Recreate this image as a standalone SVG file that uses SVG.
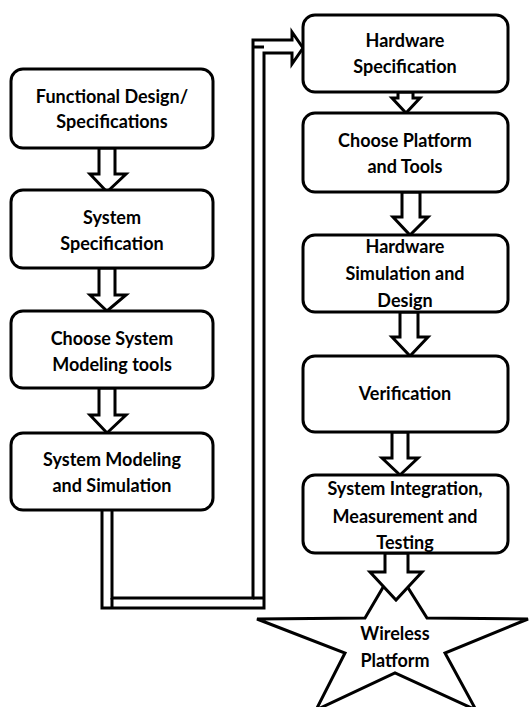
<svg xmlns="http://www.w3.org/2000/svg" width="529" height="707" viewBox="0 0 529 707">
<style>
.box{fill:#fff;stroke:#000;stroke-width:3}
.arr{fill:#fff;stroke:#000;stroke-width:3;stroke-linejoin:miter}
.ln{fill:none;stroke:#000;stroke-width:3;stroke-linejoin:miter}
text{font-family:Lato,"Liberation Sans",sans-serif;font-weight:bold;font-size:18px;fill:#000;text-anchor:middle}
</style>
<rect width="529" height="707" fill="#fff"/>
<g id="connectors">
<path class="ln" d="M102,510 V608 H264 V53 H292 V64 L303,48 L292,32 V40 H253 V598 H112 V510"/>
<path class="ln" d="M253,47 H264 M253,598 H264 M112,598 V608"/>
</g>
<g id="star">
<polygon class="arr" points="395,567 427,618 528,619 445,653 476,710 395,673 316,710 345,653 257,619 365,618"/>
<text x="395" y="640">Wireless</text>
<text x="395" y="667">Platform</text>
</g>
<g id="arrows">
<polygon class="arr" points="99,148 115,148 115,174 126,174 107,192 90,174 99,174"/>
<polygon class="arr" points="99,268 115,268 115,295 126,295 107,311 90,295 99,295"/>
<polygon class="arr" points="99,388 115,388 115,415 126,415 107,433 90,415 99,415"/>
<polygon class="arr" points="398,92 413,92 413,98 420,98 406,113 392,98 398,98"/>
<polygon class="arr" points="402,192 420,192 420,217 428,217 410,235 393,217 402,217"/>
<polygon class="arr" points="400,312 418,312 418,337 428,337 410,356 392,337 400,337"/>
<polygon class="arr" points="392,432 408,432 408,458 418,458 400,475 382,458 392,458"/>
<polygon class="arr" points="385,553 408,553 408,572 422,572 396,600 370,572 385,572"/>
</g>
<g id="n1"><rect class="box" x="11" y="69" width="202" height="79" rx="12"/>
<text x="112" y="103">Functional Design/</text><text x="112" y="128">Specifications</text></g>
<g id="n2"><rect class="box" x="11" y="190" width="202" height="78" rx="12"/>
<text x="112" y="224">System</text><text x="112" y="250">Specification</text></g>
<g id="n3"><rect class="box" x="11" y="311" width="202" height="77" rx="12"/>
<text x="112" y="345">Choose System</text><text x="112" y="371">Modeling tools</text></g>
<g id="n4"><rect class="box" x="11" y="433" width="202" height="77" rx="12"/>
<text x="112" y="466">System Modeling</text><text x="112" y="492">and Simulation</text></g>
<g id="n5"><rect class="box" x="303" y="15" width="205" height="77" rx="12"/>
<text x="405" y="47">Hardware</text><text x="405" y="73">Specification</text></g>
<g id="n6"><rect class="box" x="303" y="113" width="205" height="79" rx="12"/>
<text x="405" y="147">Choose Platform</text><text x="405" y="173">and Tools</text></g>
<g id="n7"><rect class="box" x="303" y="235" width="205" height="77" rx="12"/>
<text x="405" y="253">Hardware</text><text x="405" y="280">Simulation and</text><text x="405" y="307">Design</text></g>
<g id="n8"><rect class="box" x="303" y="356" width="205" height="76" rx="12"/>
<text x="405" y="400">Verification</text></g>
<g id="n9"><rect class="box" x="303" y="475" width="205" height="78" rx="12"/>
<text x="405" y="495">System Integration,</text><text x="405" y="523">Measurement and</text><text x="405" y="549">Testing</text></g>
</svg>
